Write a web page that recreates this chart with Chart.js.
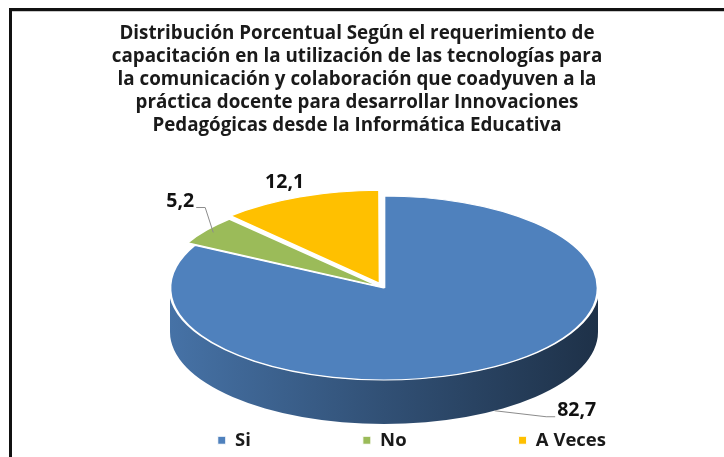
<!DOCTYPE html>
<html>
<head>
<meta charset="utf-8">
<script src="https://cdn.jsdelivr.net/npm/chart.js@4/dist/chart.umd.min.js"></script>
<style>
html, body { margin: 0; padding: 0; background: #fff; }
</style>
</head>
<body>
<canvas id="myChart" width="724" height="457"></canvas>
<script>
const titleLines = [
    'Distribución Porcentual Según el requerimiento de',
    'capacitación en la utilización de las tecnologías para',
    'la comunicación y colaboración que coadyuven a la',
    'práctica docente para desarrollar Innovaciones',
    'Pedagógicas desde la Informática Educativa'
];
const categories = ['Si', 'No', 'A Veces'];
const percentages = [82.7, 5.2, 12.1];
const sliceColors = ['#4f81bd', '#9bbb59', '#ffc000'];

// where the tilted pie sits on the page (top face ellipse + thickness)
const view = { cx: 384, cy: 288, rx: 214, ry: 92, depth: 44 };
// label placement relative to the slice edge
const labelNudge = [[82, 0], [-33, -31], [-20, -20]];
const fontFamily = '"Open Sans", sans-serif';

function shade(hex, f) {
    const n = parseInt(hex.slice(1), 16);
    const r = Math.round(((n >> 16) & 255) * f);
    const g = Math.round(((n >> 8) & 255) * f);
    const b = Math.round((n & 255) * f);
    return `rgb(${r},${g},${b})`;
}

function pieMap(chart) {
    const arc = chart.getDatasetMeta(0).data[0];
    const r0 = arc.outerRadius;
    return { ox: arc.x, oy: arc.y, sx: view.rx / r0, sy: view.ry / r0 };
}

const frame = {
    id: 'frame',
    beforeDraw(chart) {
        const ctx = chart.ctx;
        ctx.save();
        ctx.fillStyle = '#fff';
        ctx.fillRect(0, 0, chart.width, chart.height);
        ctx.fillStyle = '#c8c8c8';
        ctx.fillRect(10, 10, chart.width, 2);
        ctx.fillRect(10, 10, 2, chart.height);
        ctx.fillStyle = '#111';
        ctx.fillRect(9, 8, chart.width, 3);
        ctx.fillRect(9, 8, 3, chart.height);
        ctx.restore();
    }
};

const pie3d = {
    id: 'pie3d',
    beforeDatasetsDraw(chart) {
        const ctx = chart.ctx;
        const m = pieMap(chart);
        const meta = chart.getDatasetMeta(0);

        // side wall for the front half of each slice
        meta.data.forEach((arc, i) => {
            const base = sliceColors[i];
            [0, 2 * Math.PI, -2 * Math.PI].forEach(k => {
                const lo = Math.max(arc.startAngle, k);
                const hi = Math.min(arc.endAngle, k + Math.PI);
                if (hi <= lo) return;
                const grad = ctx.createLinearGradient(view.cx - view.rx, 0, view.cx + view.rx, 0);
                grad.addColorStop(0, shade(base, 0.88));
                grad.addColorStop(0.5, shade(base, 0.62));
                grad.addColorStop(1, shade(base, 0.38));
                ctx.save();
                ctx.beginPath();
                ctx.ellipse(view.cx, view.cy, view.rx, view.ry, 0, lo, hi);
                ctx.ellipse(view.cx, view.cy + view.depth, view.rx, view.ry, 0, hi, lo, true);
                ctx.closePath();
                ctx.fillStyle = grad;
                ctx.fill();
                ctx.restore();
            });
        });

        ctx.save();
        ctx.translate(view.cx, view.cy);
        ctx.scale(m.sx, m.sy);
        ctx.translate(-m.ox, -m.oy);
    },
    afterDatasetsDraw(chart) {
        const ctx = chart.ctx;
        ctx.restore();

        const meta = chart.getDatasetMeta(0);
        ctx.save();
        ctx.font = 'bold 19.5px ' + fontFamily;
        ctx.textAlign = 'center';
        ctx.textBaseline = 'middle';
        meta.data.forEach((arc, i) => {
            const mid = (arc.startAngle + arc.endAngle) / 2;
            const ax = view.cx + view.rx * Math.cos(mid);
            let ay = view.cy + view.ry * Math.sin(mid);
            if (Math.sin(mid) > 0) ay += view.depth;
            const [dx, dy] = labelNudge[i];
            const lx = ax + dx, ly = ay + dy;
            const text = String(percentages[i]).replace('.', ',');
            const w = ctx.measureText(text).width;
            if (Math.hypot(dx, dy) > 35) {
                const side = dx > 0 ? -1 : 1;
                const ex = lx + side * (w / 2 + 2);
                ctx.beginPath();
                ctx.moveTo(ax, ay);
                ctx.lineTo(ex + side * 9, ly + 6);
                ctx.lineTo(ex, ly + 6);
                ctx.strokeStyle = '#8c8c8c';
                ctx.lineWidth = 1;
                ctx.stroke();
            }
            ctx.fillStyle = '#111';
            ctx.fillText(text, lx, ly);
        });
        ctx.restore();
    }
};

const ctx = document.getElementById('myChart').getContext('2d');
new Chart(ctx, {
    type: 'pie',
    data: {
        labels: categories,
        datasets: [{
            data: percentages,
            backgroundColor: sliceColors,
            borderColor: '#ffffff',
            borderWidth: 1,
            offset: [0, 8, 16],
            clip: false
        }]
    },
    options: {
        responsive: false,
        animation: false,
        devicePixelRatio: 1,
        layout: { padding: { left: -4, right: 6, top: 0, bottom: -2.5 } },
        plugins: {
            tooltip: { enabled: false },
            title: {
                display: true,
                text: titleLines,
                color: '#1a1a1a',
                font: { family: fontFamily, size: 18.8, weight: 'bold', lineHeight: 23 / 18.8 },
                padding: { top: 22.5, bottom: 5 }
            },
            legend: {
                position: 'bottom',
                align: 'end',
                labels: {
                    color: '#1a1a1a',
                    font: { family: fontFamily, size: 18.5, weight: 'bold' },
                    boxWidth: 8,
                    boxHeight: 8,
                    padding: 112
                }
            }
        }
    },
    plugins: [frame, pie3d]
});
</script>
</body>
</html>
